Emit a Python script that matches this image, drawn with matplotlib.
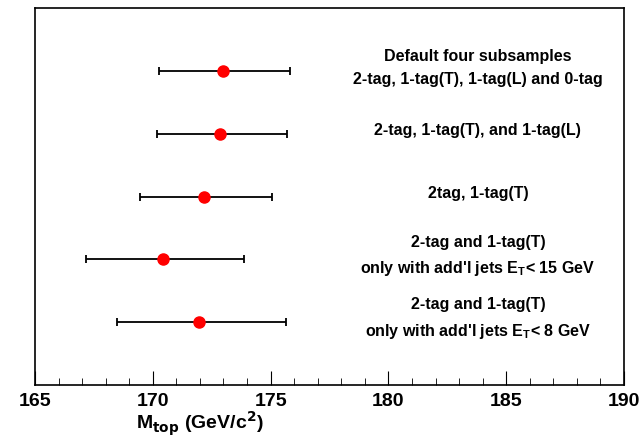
import numpy as np
import matplotlib.pyplot as plt
from matplotlib.ticker import MultipleLocator

plt.rcParams['font.family'] = ['Liberation Sans', 'DejaVu Sans']

# data
mtop = [173.0, 172.86, 172.16, 170.45, 171.96]
err_lo = [2.74, 2.68, 2.72, 3.29, 3.49]
err_hi = [2.82, 2.85, 2.9, 3.43, 3.69]
ypos = [5, 4, 3, 2, 1]
labels = ["Default four subsamples\n2-tag, 1-tag(T), 1-tag(L) and 0-tag",
          "2-tag, 1-tag(T), and 1-tag(L)",
          "2tag, 1-tag(T)",
          "2-tag and 1-tag(T)\nonly with add'l jets E$_\\mathregular{T}$< 15 GeV",
          "2-tag and 1-tag(T)\nonly with add'l jets E$_\\mathregular{T}$< 8 GeV"]

fig = plt.figure(figsize=(6.41, 4.43), dpi=100)
ax = fig.add_axes([35/641, 1-385/443, 589/641, 377/443])

ax.errorbar(mtop, ypos, xerr=[err_lo, err_hi], fmt='o', color='red',
            ecolor='black', elinewidth=1.3, capsize=3, capthick=1.3,
            markersize=8, zorder=3)
for y, lab in zip(ypos, labels):
    ax.text(183.8, y + 0.05, lab, ha='center', va='center', fontsize=11.5,
            fontweight='bold', linespacing=1.65)

ax.set_xlim(165, 190)
ax.set_ylim(0, 6)
ax.set_yticks([])
ax.xaxis.set_major_locator(MultipleLocator(5))
ax.xaxis.set_minor_locator(MultipleLocator(1))
ax.tick_params(axis='x', which='major', direction='in', length=10, labelsize=14, pad=6)
ax.tick_params(axis='x', which='minor', direction='in', length=5)
for lab in ax.get_xticklabels():
    lab.set_fontweight('bold')
ax.set_xlabel(r'M$_{\mathbf{top}}$ (GeV/c$^{\mathbf{2}}$)', fontsize=14,
              fontweight='bold', labelpad=2)
ax.xaxis.set_label_coords(0.28, -0.065)
for s in ax.spines.values():
    s.set_linewidth(1.2)

fig.savefig('out.png', dpi=100)
